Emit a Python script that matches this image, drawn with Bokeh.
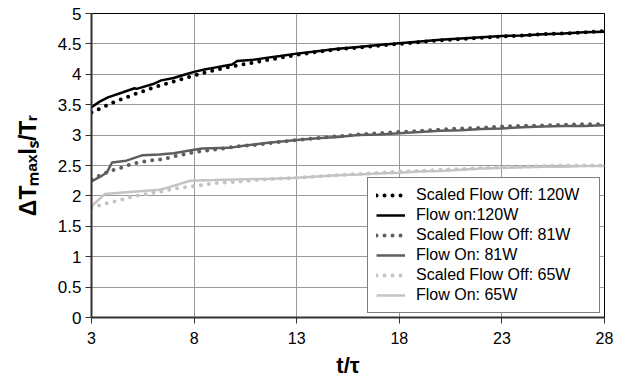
import numpy as np
from bokeh.plotting import figure
from bokeh.models import FixedTicker, Legend, LegendItem, Range1d
from bokeh.embed import file_html
from bokeh.resources import INLINE

# ---------------- data ----------------
t_on120 = [3, 3.4, 3.8, 4.5, 5.1, 5.2, 6.0, 6.4, 7.0, 7.6, 8.0, 8.5, 9.0, 9.5, 9.85, 10.1, 10.9, 11.5, 12.2,
           13, 14, 15, 16, 17, 18, 19, 20, 21, 22, 23, 24, 25, 26, 27, 28]
v_on120 = [3.46, 3.55, 3.62, 3.70, 3.77, 3.76, 3.84, 3.90, 3.94, 4.00, 4.04, 4.08, 4.11, 4.14, 4.16, 4.22, 4.24,
           4.27, 4.30, 4.34, 4.38, 4.42, 4.45, 4.48, 4.51, 4.54, 4.57, 4.59, 4.61, 4.63, 4.64, 4.66, 4.67, 4.69, 4.70]

t_off120 = [3, 4, 5, 6, 7, 8, 9, 10, 11, 12, 13, 14, 15, 16, 17, 18, 19, 20, 21, 22, 23, 24, 25, 26, 27, 28]
v_off120 = [3.37, 3.53, 3.66, 3.78, 3.88, 3.98, 4.07, 4.14, 4.20, 4.26, 4.32, 4.37, 4.41, 4.44, 4.47, 4.50,
            4.53, 4.56, 4.58, 4.60, 4.62, 4.64, 4.66, 4.67, 4.69, 4.71]

t_on81 = [3, 3.45, 3.76, 4.0, 4.7, 5.5, 6.3, 7.0, 8.0, 8.4, 9.7, 10.5, 11.5, 13, 14, 15, 16, 17, 18, 19, 20,
          21, 22, 23, 24, 25, 26, 27, 28]
v_on81 = [2.24, 2.32, 2.39, 2.55, 2.58, 2.67, 2.68, 2.70, 2.76, 2.78, 2.79, 2.83, 2.87, 2.92, 2.95, 2.97, 3.00,
          3.01, 3.03, 3.05, 3.07, 3.08, 3.10, 3.11, 3.13, 3.14, 3.15, 3.15, 3.16]

t_off81 = [3, 3.5, 4, 4.5, 5, 5.5, 6, 6.5, 7, 7.5, 8, 9, 10, 11, 12, 13, 14, 15, 16, 17, 18, 19, 20, 21, 22,
           23, 24, 25, 26, 27, 28]
v_off81 = [2.27, 2.35, 2.42, 2.47, 2.53, 2.56, 2.59, 2.60, 2.65, 2.68, 2.72, 2.76, 2.81, 2.84, 2.88, 2.92, 2.95,
           2.98, 3.01, 3.03, 3.05, 3.07, 3.09, 3.11, 3.12, 3.14, 3.15, 3.16, 3.17, 3.18, 3.18]

t_on65 = [3, 3.65, 5, 6.33, 6.75, 7.8, 9, 10, 11.5, 13, 14, 15, 16, 17, 18, 19, 20, 21, 22, 23, 24, 25, 26, 27, 28]
v_on65 = [1.83, 2.03, 2.07, 2.10, 2.14, 2.25, 2.26, 2.27, 2.28, 2.30, 2.32, 2.34, 2.35, 2.37, 2.38, 2.40, 2.41,
          2.43, 2.45, 2.46, 2.47, 2.48, 2.48, 2.49, 2.49]

t_off65 = [3, 3.5, 4, 4.5, 5, 5.5, 6, 6.5, 7, 7.5, 8, 9, 10, 11, 12, 13, 14, 15, 16, 17, 18, 19, 20, 21, 22,
           23, 24, 25, 26, 27, 28]
v_off65 = [1.80, 1.86, 1.90, 1.94, 1.99, 2.02, 2.05, 2.08, 2.12, 2.14, 2.16, 2.21, 2.23, 2.26, 2.28, 2.30, 2.32,
           2.34, 2.36, 2.38, 2.40, 2.41, 2.43, 2.44, 2.46, 2.47, 2.48, 2.49, 2.50, 2.50, 2.50]

series_labels = ["Scaled Flow Off: 120W", "Flow on:120W", "Scaled Flow Off: 81W",
                 "Flow On: 81W", "Scaled Flow Off: 65W", "Flow On: 65W"]

x_ticks = [3, 8, 13, 18, 23, 28]
y_ticks = [0, 0.5, 1, 1.5, 2, 2.5, 3, 3.5, 4, 4.5, 5]
y_tick_labels = ["0", "0.5", "1", "1.5", "2", "2.5", "3", "3.5", "4", "4.5", "5"]

x_title = "t/τ"
y_title = "ΔTₘₐₓlₛ/Tᵣ"

FONT = "Liberation Sans"

# ---------------- figure ----------------
p = figure(width=639, height=380, x_range=Range1d(3, 28), y_range=Range1d(0, 5),
           output_backend="svg", toolbar_location=None,
           min_border_left=91, min_border_right=35, min_border_top=13, min_border_bottom=62)
p.background_fill_color = "white"
p.border_fill_color = "white"
p.outline_line_color = "black"
p.outline_line_width = 1

for ax in (p.xaxis[0], p.yaxis[0]):
    ax.axis_line_color = "#333333"
    ax.axis_line_width = 2
    ax.major_tick_line_color = "#333333"
    ax.major_tick_line_width = 1
    ax.major_tick_in = 0
    ax.major_tick_out = 6
    ax.minor_tick_line_color = None
    ax.major_label_text_font = FONT
    ax.major_label_text_color = "black"
    ax.axis_label_text_font = FONT
    ax.axis_label_text_font_style = "bold"
    ax.axis_label_text_color = "black"

p.xaxis.major_label_text_font_size = "16px"
p.yaxis.major_label_text_font_size = "17px"
p.xaxis.ticker = FixedTicker(ticks=x_ticks)
p.yaxis.ticker = FixedTicker(ticks=y_ticks)
p.yaxis.major_label_overrides = {k: v for k, v in zip(y_ticks, y_tick_labels)}
p.xaxis.major_label_overrides = {k: str(k) for k in x_ticks}
p.yaxis.major_label_standoff = 4
p.xaxis.major_label_standoff = 8

p.xaxis.axis_label = x_title
p.xaxis.axis_label_text_font_size = "22px"
p.xaxis.axis_label_standoff = 6

p.yaxis.axis_label = y_title
p.yaxis.axis_label_text_font_size = "23px"
p.yaxis.axis_label_standoff = 14

p.xgrid.grid_line_color = "#999999"
p.ygrid.grid_line_color = "#999999"
p.xgrid.grid_line_width = 1
p.ygrid.grid_line_width = 1

DOT = "0 8"
r65s = p.line(t_on65, v_on65, line_color="#c4c4c4", line_width=2.5)
r65d = p.line(t_off65, v_off65, line_color="#c4c4c4", line_width=4, line_dash=DOT, line_cap="round")
r81s = p.line(t_on81, v_on81, line_color="#5e5e5e", line_width=2.5)
r81d = p.line(t_off81, v_off81, line_color="#5e5e5e", line_width=4, line_dash=DOT, line_cap="round")
r120s = p.line(t_on120, v_on120, line_color="black", line_width=2.5)
r120d = p.line(t_off120, v_off120, line_color="black", line_width=4, line_dash=DOT, line_cap="round")

rends = [r120d, r120s, r81d, r81s, r65d, r65s]
legend = Legend(items=[LegendItem(label=l, renderers=[r]) for l, r in zip(series_labels, rends)],
                location="bottom_right", margin=4, padding=8, spacing=2,
                glyph_width=29, glyph_height=18, label_height=18, label_width=175, label_standoff=11,
                label_text_font=FONT, label_text_font_size="16px", label_text_color="black",
                border_line_color="black", border_line_width=1,
                background_fill_color="white", background_fill_alpha=1)
p.add_layout(legend)

open("out.html", "w").write(file_html(p, INLINE))
